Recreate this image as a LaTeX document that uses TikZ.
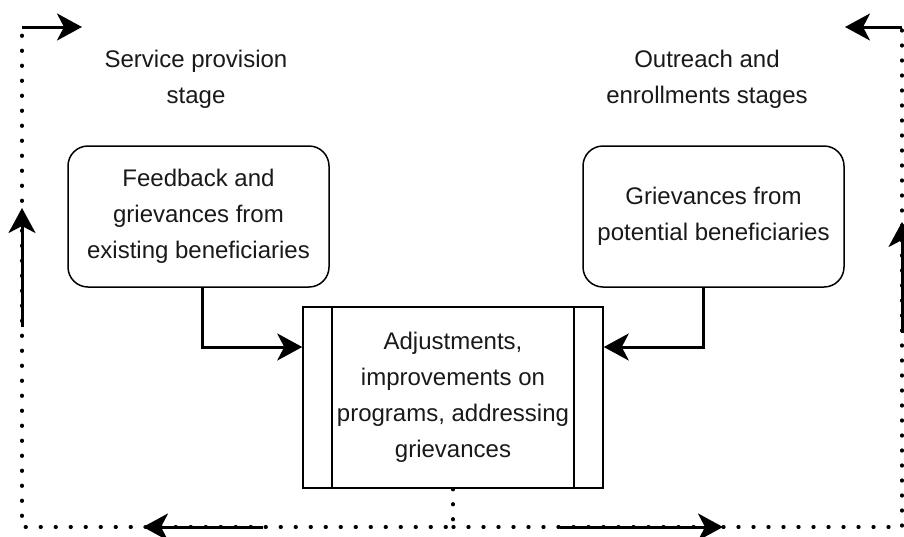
\documentclass[tikz,border=0pt]{standalone}
\usepackage{fontspec}
\setmainfont{Liberation Sans}
\usetikzlibrary{arrows.meta,calc}
\begin{document}
\begin{tikzpicture}[x=1pt,y=-1pt,
  txt/.style={font=\fontsize{24}{36}\selectfont, align=center, text=black!90, inner sep=0pt},
  roundbox/.style={draw, line width=1.5pt, rounded corners=20pt,
    minimum width=261pt, minimum height=141pt},
  procbox/.style={draw, line width=1.5pt, minimum width=300pt, minimum height=181pt},
  link/.style={line width=3pt, -{Stealth[length=25pt,width=27pt,inset=7pt]}},
  loopline/.style={line width=3.2pt, dash pattern=on 1pt off 14pt, line cap=round},
]
\useasboundingbox (0,0) rectangle (904,536);

% stage captions
\node[txt] (sp) at (196,79.5) {Service provision\\stage};
\node[txt] (oe) at (707,79.5) {Outreach and\\enrollments stages};

% feedback sources
\node[roundbox, txt] (fb) at (198.5,216.5) {Feedback and\\grievances from\\existing beneficiaries};
\node[roundbox, txt] (gr) at (713.5,216.5) {Grievances from\\potential beneficiaries};

% central process
\node[procbox, txt] (adj) at (453,397.5) {Adjustments,\\improvements on\\programs, addressing\\grievances};
\draw[line width=1.8pt] ([xshift=30pt]adj.north west) -- ([xshift=30pt]adj.south west);
\draw[line width=1.8pt] ([xshift=-30pt]adj.north east) -- ([xshift=-30pt]adj.south east);

% inputs into the process
\draw[link] ([xshift=3.5pt]fb.south) |- ([yshift=50.5pt]adj.west);
\draw[link] ([xshift=-10.5pt]gr.south) |- ([yshift=50.5pt]adj.east);

% feedback loop corners
\coordinate (bl) at (22,527);
\coordinate (tl) at (22,27);
\coordinate (br) at (902,527);
\coordinate (tr) at (902,27);
\coordinate (bm) at (adj.south |- bl);

% dotted loop
\draw[loopline] (adj.south) -- (bm) -- (bl) -- (tl);
\draw[loopline] (bm) -- (br) -- (tr);

% direction arrows along the loop
\coordinate (tlh) at (82,27);
\coordinate (trh) at (845,27);
\coordinate (lvs) at (22,327);
\coordinate (lvh) at (22,208);
\coordinate (rvs) at (902,333);
\coordinate (rvh) at (902,222);
\coordinate (bls) at (263,527);
\coordinate (blh) at (143,527);
\coordinate (brs) at (560,527);
\coordinate (brh) at (723,527);
\draw[link] (tl) -- (tlh);
\draw[link] (tr) -- (trh);
\draw[link] (lvs) -- (lvh);
\draw[link] (rvs) -- (rvh);
\draw[link] (bls) -- (blh);
\draw[link] (brs) -- (brh);
\end{tikzpicture}
\end{document}
